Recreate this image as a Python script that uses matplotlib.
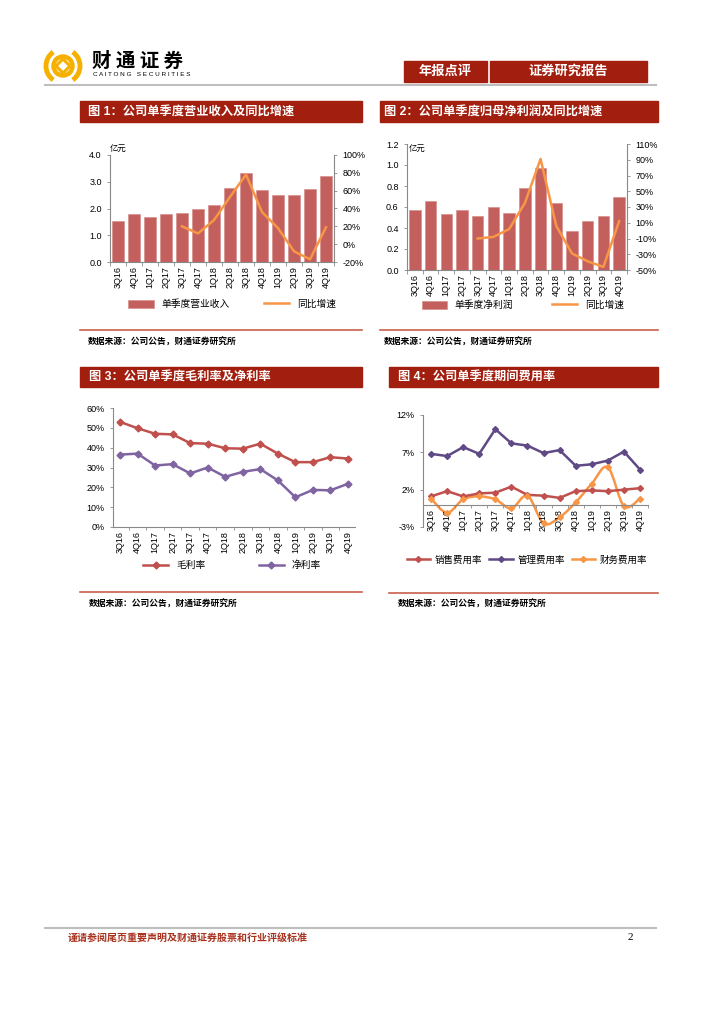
import numpy as np
import matplotlib
matplotlib.use('Agg')
import matplotlib.pyplot as plt
from matplotlib.patches import Rectangle, Circle, Arc, Polygon, PathPatch
from matplotlib.path import Path
from matplotlib.lines import Line2D
from matplotlib.ticker import PercentFormatter, FormatStrFormatter

plt.rcParams['font.family'] = ['Liberation Sans', 'Noto Sans CJK SC', 'DejaVu Sans']
plt.rcParams['axes.unicode_minus'] = False

# DATA
quarters = ['3Q16', '4Q16', '1Q17', '2Q17', '3Q17', '4Q17', '1Q18', '2Q18',
            '3Q18', '4Q18', '1Q19', '2Q19', '3Q19', '4Q19']
nan = np.nan
revenue = [1.55, 1.78, 1.68, 1.79, 1.85, 1.98, 2.12, 2.78, 3.32, 2.70, 2.50, 2.50, 2.73, 3.20]
revenue_yoy = [nan, nan, nan, nan, 0.20, 0.12, 0.27, 0.53, 0.78, 0.36, 0.18, -0.08, -0.17, 0.19]
profit = [0.57, 0.66, 0.53, 0.57, 0.51, 0.60, 0.54, 0.78, 0.97, 0.64, 0.37, 0.47, 0.51, 0.70]
profit_yoy = [nan, nan, nan, nan, -0.10, -0.08, 0.02, 0.35, 0.91, 0.06, -0.29, -0.39, -0.46, 0.12]
gross_margin = [0.530, 0.498, 0.470, 0.467, 0.423, 0.420, 0.397, 0.395, 0.420, 0.370,
                0.327, 0.327, 0.352, 0.345]
net_margin = [0.365, 0.370, 0.310, 0.317, 0.270, 0.300, 0.253, 0.278, 0.292, 0.235,
              0.150, 0.187, 0.185, 0.218]
sales_rate = [1.1, 1.8, 1.1, 1.5, 1.6, 2.4, 1.3, 1.2, 0.9, 1.8, 1.9, 1.8, 2.0, 2.2]
admin_rate = [6.8, 6.5, 7.7, 6.8, 10.1, 8.2, 7.9, 6.9, 7.3, 5.2, 5.4, 5.9, 7.1, 4.7]
fin_rate = [0.8, -1.1, 0.7, 1.1, 0.7, -0.5, 1.2, -2.5, -1.7, 0.3, 2.8, 5.0, -0.2, 0.8]

W, H = 724, 1024
DARK_RED = '#A21E0E'
BAR = '#C3605D'
ORANGE = '#F79646'
RED = '#C0504D'
PURPLE = '#8064A2'
DPURPLE = '#5F4A86'
GRAY = '#898989'

fig = plt.figure(figsize=(7.24, 10.24), dpi=100)
bg = fig.add_axes([0, 0, 1, 1])
bg.set_xlim(0, W)
bg.set_ylim(H, 0)
bg.axis('off')


def rect(x0, y0, x1, y1):
    return [x0 / W, 1 - y1 / H, (x1 - x0) / W, (y1 - y0) / H]


def style(ax, left=True, bottom=True):
    for s in ['top', 'right', 'left', 'bottom']:
        ax.spines[s].set_visible(False)
    for s, on in [('left', left), ('bottom', bottom)]:
        if on:
            ax.spines[s].set_visible(True)
            ax.spines[s].set_color(GRAY)
            ax.spines[s].set_linewidth(0.8)
    ax.tick_params(axis='both', labelsize=6.5, colors='black', length=2.5, width=0.6)
    ax.tick_params(axis='y', color=GRAY)
    ax.tick_params(axis='x', which='major', length=0, pad=3)
    ax.tick_params(axis='x', which='minor', length=3, color=GRAY, width=0.6)
    ax.set_facecolor('none')


def cat_axis(ax):
    x = np.arange(len(quarters))
    ax.set_xlim(-0.5, len(quarters) - 0.5)
    ax.set_xticks(x)
    ax.set_xticklabels(quarters)
    ax.tick_params(axis='x', labelrotation=90)
    ax.set_xticks(np.arange(len(quarters) + 1) - 0.5, minor=True)
    return x


# header
bg.add_patch(Circle((63, 66), 9.5, fill=False, lw=3.2, color='#F5B000'))
bg.add_patch(Polygon([(63, 59), (70, 66), (63, 73), (56, 66)], closed=True, fill=False,
                     lw=2.2, color='#F5B000'))
bg.add_patch(Arc((63, 66), 34, 34, theta1=125, theta2=235, lw=3.5, color='#F5B000'))
bg.add_patch(Arc((63, 66), 34, 34, theta1=-55, theta2=55, lw=3.5, color='#F5B000'))
bg.text(92, 61, '财 通 证 券', fontsize=14, fontweight='bold', ha='left', va='center',
        family=['Noto Sans CJK SC'])
bg.text(93, 75, 'C A I T O N G   S E C U R I T I E S', fontsize=4.6, ha='left', va='center')
bg.add_patch(Rectangle((404, 61), 83, 21, color=DARK_RED))
bg.add_patch(Rectangle((490, 61), 157, 21, color=DARK_RED))
bg.text(445.5, 71.5, '年报点评', color='white', fontsize=9.5, ha='center', va='center',
        fontweight='bold')
bg.text(568.5, 71.5, '证券研究报告', color='white', fontsize=9.5, ha='center', va='center',
        fontweight='bold')
bg.plot([45, 656], [85, 85], color='#BEBEBE', lw=1.5)

# panel frames: title bars, separators, sources
panels = [
    (80, 362, 101, 122, 88, '图 1：公司单季度营业收入及同比增速', 330, 342),
    (380, 658, 101, 122, 384, '图 2：公司单季度归母净利润及同比增速', 330, 342),
    (80, 362, 367, 387, 89, '图 3：公司单季度毛利率及净利率', 592, 604),
    (389, 658, 367, 387, 398, '图 4：公司单季度期间费用率', 593, 604),
]
for x0, x1, y0, y1, tx, title, ly, sy in panels:
    bg.add_patch(Rectangle((x0, y0), x1 - x0, y1 - y0, color=DARK_RED))
    bg.text(tx, (y0 + y1) / 2, title, color='white', fontsize=8.8, fontweight='bold',
            ha='left', va='center')
    bg.plot([x0, x1], [ly, ly], color='#C8604C', lw=1.2)
    bg.text(tx, sy, '数据来源：公司公告，财通证券研究所', fontsize=6.3, fontweight='bold',
            ha='left', va='center')

# footer
bg.plot([45, 656], [928, 928], color='#BEBEBE', lw=1.5)
bg.text(68, 938, '谨请参阅尾页重要声明及财通证券股票和行业评级标准', color='#A8321E',
        fontsize=7.2, fontweight='bold', ha='left', va='center')
bg.text(630, 938, '2', fontsize=8, ha='center', va='center', family=['Liberation Serif'])

# chart 1
ax1 = fig.add_axes(rect(110, 155, 334, 262))
style(ax1)
x = cat_axis(ax1)
b1 = ax1.bar(x, revenue, 0.76, color=BAR, edgecolor='#D8908D', lw=0.5)
ax1.set_ylim(0, 4)
ax1.set_yticks(np.arange(0, 4.01, 1))
ax1.yaxis.set_major_formatter(FormatStrFormatter('%.1f'))
ax1.text(0.0, 1.06, '亿元', transform=ax1.transAxes, fontsize=6, ha='left', va='center')
ax1b = ax1.twinx()
style(ax1b, left=False, bottom=False)
ax1b.spines['right'].set_visible(True)
ax1b.spines['right'].set_color(GRAY)
ax1b.spines['right'].set_linewidth(0.8)
l1, = ax1b.plot(x, revenue_yoy, color=ORANGE, lw=1.8)
ax1b.set_ylim(-0.2, 1.0)
ax1b.set_yticks(np.arange(-0.2, 1.01, 0.2))
ax1b.yaxis.set_major_formatter(PercentFormatter(1, decimals=0))
ax1.legend([b1, l1], ['单季度营业收入', '同比增速'], loc='center', ncol=2,
           bbox_to_anchor=(232 / W, 1 - 304 / H), bbox_transform=fig.transFigure,
           frameon=False, fontsize=7, handlelength=2.6, handleheight=0.9,
           columnspacing=3.5)

# chart 2
ax2 = fig.add_axes(rect(407, 144, 627, 270))
style(ax2)
x = cat_axis(ax2)
b2 = ax2.bar(x, profit, 0.72, color=BAR, edgecolor='#D8908D', lw=0.5)
ax2.set_ylim(0, 1.2)
ax2.set_yticks(np.arange(0, 1.21, 0.2))
ax2.yaxis.set_major_formatter(FormatStrFormatter('%.1f'))
ax2.text(0.01, 0.96, '亿元', transform=ax2.transAxes, fontsize=6, ha='left', va='center')
ax2b = ax2.twinx()
style(ax2b, left=False, bottom=False)
ax2b.spines['right'].set_visible(True)
ax2b.spines['right'].set_color(GRAY)
ax2b.spines['right'].set_linewidth(0.8)
l2, = ax2b.plot(x, profit_yoy, color=ORANGE, lw=1.8)
ax2b.set_ylim(-0.5, 1.1)
ax2b.set_yticks(np.arange(-0.5, 1.11, 0.2))
ax2b.yaxis.set_major_formatter(PercentFormatter(1, decimals=0))
ax2.legend([b2, l2], ['单季度净利润', '同比增速'], loc='center', ncol=2,
           bbox_to_anchor=(523 / W, 1 - 305 / H), bbox_transform=fig.transFigure,
           frameon=False, fontsize=7, handlelength=2.6, handleheight=0.9,
           columnspacing=4)

# chart 3
ax3 = fig.add_axes(rect(113, 408, 355, 527))
style(ax3)
x = cat_axis(ax3)
ax3.set_xlim(-0.4, 13.4)
ax3.tick_params(axis='x', which='minor', length=2)
ax3.plot(x, gross_margin, color=RED, lw=1.8, marker='D', ms=3.5, label='毛利率')
ax3.plot(x, net_margin, color=PURPLE, lw=1.8, marker='D', ms=3.5, label='净利率')
ax3.set_ylim(0, 0.6)
ax3.set_yticks(np.arange(0, 0.61, 0.1))
ax3.yaxis.set_major_formatter(PercentFormatter(1, decimals=0))
ax3.legend(loc='center', ncol=2, bbox_to_anchor=(232 / W, 1 - 565 / H),
           bbox_transform=fig.transFigure, frameon=False, fontsize=7,
           handlelength=2.6, columnspacing=5.5)

# chart 4
ax4 = fig.add_axes(rect(423, 415, 648, 527))
style(ax4)
ax4.spines['bottom'].set_position(('data', 0))
x = cat_axis(ax4)
ax4.tick_params(axis='x', which='minor', length=2)
ax4.plot(x, sales_rate, color=RED, lw=1.8, marker='D', ms=3, label='销售费用率')
ax4.plot(x, admin_rate, color=DPURPLE, lw=1.8, marker='D', ms=3, label='管理费用率')
# smooth line through the finance points (Catmull-Rom as cubic Bezier)
pts = np.column_stack([x, fin_rate]).astype(float)
verts = [pts[0]]
codes = [Path.MOVETO]
for i in range(len(pts) - 1):
    p0 = pts[max(i - 1, 0)]
    p1 = pts[i]
    p2 = pts[i + 1]
    p3 = pts[min(i + 2, len(pts) - 1)]
    verts += [p1 + (p2 - p0) / 6, p2 - (p3 - p1) / 6, p2]
    codes += [Path.CURVE4] * 3
ax4.add_patch(PathPatch(Path(verts, codes), fill=False, edgecolor=ORANGE, lw=1.8))
ax4.plot(x, fin_rate, ls='none', color=ORANGE, marker='D', ms=3)
fin_handle = Line2D([], [], color=ORANGE, lw=1.8, marker='D', ms=3)
ax4.set_ylim(-3, 12)
ax4.set_yticks([-3, 2, 7, 12])
ax4.yaxis.set_major_formatter(PercentFormatter(100, decimals=0))
h, lab = ax4.get_legend_handles_labels()
ax4.legend(h + [fin_handle], lab + ['财务费用率'], loc='center', ncol=3,
           bbox_to_anchor=(527 / W, 1 - 560 / H), bbox_transform=fig.transFigure,
           frameon=False, fontsize=6.8, handlelength=2.5, handletextpad=0.5,
           columnspacing=0.7)

fig.savefig('out.png', dpi=100)
